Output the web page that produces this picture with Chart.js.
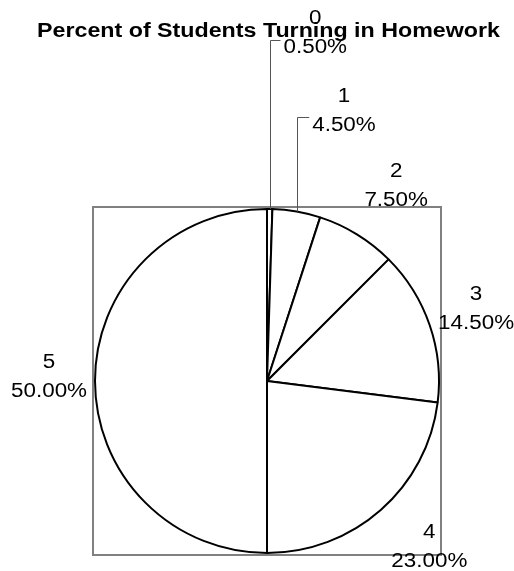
<!DOCTYPE html>
<html>
<head>
<meta charset="utf-8">
<title>Percent of Students Turning in Homework</title>
<script src="https://cdn.jsdelivr.net/npm/chart.js@4.4.0/dist/chart.umd.min.js"></script>
<style>
  html, body { margin: 0; padding: 0; background: #fff; }
  canvas { display: block; }
</style>
</head>
<body>
<canvas id="myChart" width="514" height="571"></canvas>
<script>
const chartTitle = 'Percent of Students Turning in Homework';
const categories = ['0', '1', '2', '3', '4', '5'];
const percents = [0.5, 4.5, 7.5, 14.5, 23.0, 50.0];
const percentLabels = ['0.50%', '4.50%', '7.50%', '14.50%', '23.00%', '50.00%'];

// where the labels sit: extra distance past the rim and a small turn (degrees)
const labelExtra = [179, 109, 62, 49, 60, 46];
const labelTurn = [7, 6, 2, 0, -3, 1];
const hasLeader = [true, true, false, false, false, false];

const FONT = "'Liberation Sans', Arial, sans-serif";
const STRETCH = 1.12; // the original text is a bit wider than normal

function stretchedText(ctx, text, x, y, sx) {
    ctx.save();
    ctx.translate(x, y);
    ctx.scale(sx, 1);
    ctx.fillText(text, 0, 0);
    ctx.restore();
}

// gray frame round the plot area
const framePlugin = {
    id: 'frame',
    beforeDatasetsDraw(chart) {
        const { ctx, chartArea: a } = chart;
        ctx.save();
        ctx.strokeStyle = '#808080';
        ctx.lineWidth = 2;
        ctx.strokeRect(a.left - 1, a.top - 1, a.right - a.left + 2, a.bottom - a.top + 2);
        ctx.restore();
    }
};

// title and outside labels with leader lines
const labelPlugin = {
    id: 'outsideLabels',
    afterDraw(chart) {
        const ctx = chart.ctx;
        ctx.save();
        ctx.fillStyle = '#000';
        ctx.textAlign = 'center';
        ctx.textBaseline = 'middle';

        ctx.font = 'bold 20px ' + FONT;
        const tw = ctx.measureText(chartTitle).width;
        stretchedText(ctx, chartTitle, 268.5, 31, 463 / tw);

        ctx.font = '20px ' + FONT;
        const meta = chart.getDatasetMeta(0);
        meta.data.forEach((arc, i) => {
            const p = arc.getProps(['x', 'y', 'startAngle', 'endAngle', 'outerRadius'], true);
            const mid = (p.startAngle + p.endAngle) / 2;
            const a = mid + labelTurn[i] * Math.PI / 180;
            const d = p.outerRadius + labelExtra[i];
            const lx = p.x + d * Math.cos(a);
            const ly = p.y + d * Math.sin(a);

            stretchedText(ctx, categories[i], lx, ly - 14.5, STRETCH);
            stretchedText(ctx, percentLabels[i], lx, ly + 14.5, STRETCH);

            if (hasLeader[i]) {
                const ex = p.x + p.outerRadius * Math.cos(mid);
                const ey = p.y + p.outerRadius * Math.sin(mid);
                const pw = ctx.measureText(percentLabels[i]).width * STRETCH;
                const topY = ly + 14.5 - 8;
                ctx.strokeStyle = '#555';
                ctx.lineWidth = 1;
                ctx.beginPath();
                ctx.moveTo(Math.round(ex) + 0.5, ey);
                ctx.lineTo(Math.round(ex) + 0.5, Math.round(topY) + 0.5);
                ctx.lineTo(lx - pw / 2 - 3, Math.round(topY) + 0.5);
                ctx.stroke();
            }
        });
        ctx.restore();
    }
};

new Chart(document.getElementById('myChart'), {
    type: 'pie',
    data: {
        labels: categories,
        datasets: [{
            data: percents,
            backgroundColor: '#ffffff',
            borderColor: '#000000',
            borderWidth: 2,
            hoverOffset: 0
        }]
    },
    options: {
        responsive: false,
        animation: false,
        events: [],
        layout: { padding: { left: 94, right: 74, top: 208, bottom: 17 } },
        plugins: {
            legend: { display: false },
            title: { display: false },
            tooltip: { enabled: false }
        }
    },
    plugins: [framePlugin, labelPlugin]
});
</script>
</body>
</html>
